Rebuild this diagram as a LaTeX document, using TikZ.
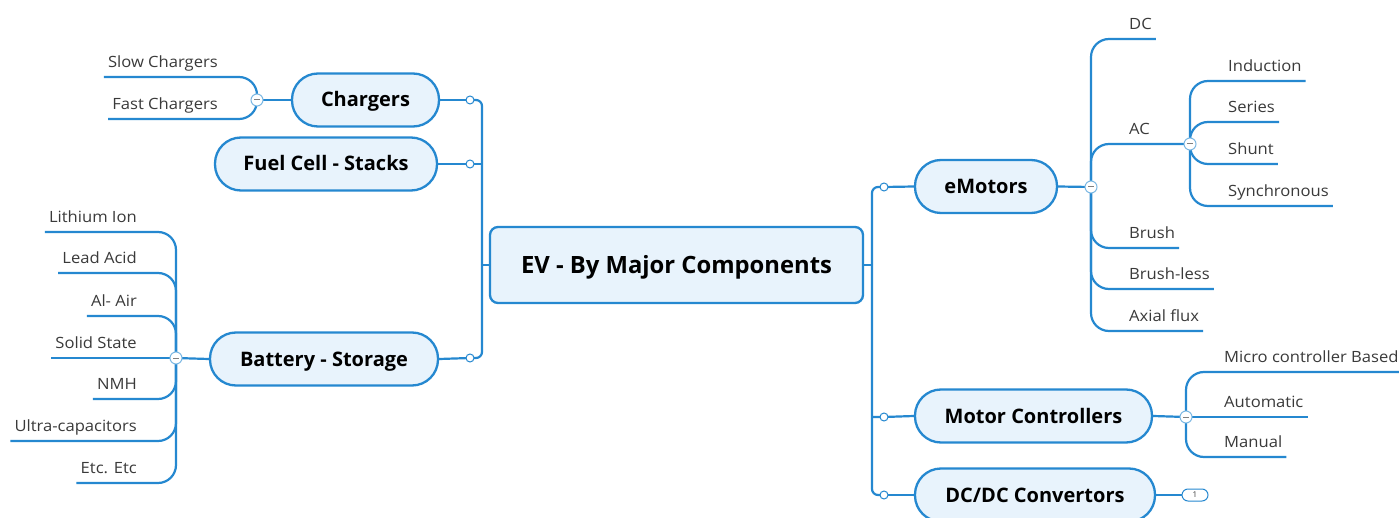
\documentclass[tikz,border=0pt]{standalone}
\usepackage{fontspec}
\setmainfont{Open Sans}
\newfontfamily\subfont[FakeStretch=1.07]{Open Sans}
\usetikzlibrary{backgrounds,calc}
\definecolor{ln}{HTML}{2588D0}
\definecolor{nf}{HTML}{E8F3FC}
\definecolor{tx}{HTML}{3A3A3A}
\begin{document}
\begin{tikzpicture}[x=1pt,y=1pt,
  topic/.style={draw=ln, line width=2.3pt, fill=nf, rounded corners=26pt, minimum height=53pt, inner sep=0pt, text height=18pt, text depth=4pt, font=\fontsize{20}{22}\selectfont\bfseries, text=black},
  central/.style={topic, rounded corners=8pt, minimum height=76pt, text height=22pt, text depth=5pt, font=\fontsize{23.8}{26}\selectfont\bfseries},
  subt/.style={inner xsep=4pt, inner ysep=0pt, text height=11pt, text depth=9.5pt, font=\subfont\fontsize{15.5}{17}\selectfont, text=tx},
  subl/.style={subt, anchor=south east},
  subr/.style={subt, anchor=south west},
  conn/.style={draw=ln, line width=2.2pt},
  rc/.style={conn, rounded corners=18pt},
  jn/.style={circle, draw=ln, line width=1pt, fill=white, minimum size=8pt, inner sep=0pt},
  coll/.style={circle, draw=ln!60, line width=1pt, fill=white, minimum size=12pt, inner sep=0pt,
    path picture={\draw[gray, line width=1pt] ($(path picture bounding box.center)+(-3,0)$) -- ++(6,0);}},
  badge/.style={draw=ln, line width=1pt, fill=white, rounded corners=6pt, minimum width=26pt, minimum height=12pt, inner sep=0pt, font=\fontsize{8}{9}\selectfont, text=tx}
]
\useasboundingbox (0,0) rectangle (1399,-518);
% central
\node[central, minimum width=373pt] (ev) at (676.5,-265) {EV - By Major Components};
% left topics
\node[topic, minimum width=147pt] (chg) at (365.5,-100) {Chargers};
\node[topic, minimum width=222pt] (fuel) at (326,-164) {Fuel Cell - Stacks};
\node[topic, minimum width=228pt] (bat) at (324,-359) {Battery - Storage};
% right topics
\node[topic, minimum width=142pt] (emo) at (986,-186.5) {eMotors};
\node[topic, minimum width=237pt] (mc) at (1033.5,-416) {Motor Controllers};
\node[topic, minimum width=240pt] (dcdc) at (1035,-495) {DC/DC Convertors};
% junctions
\node[jn] (j1) at (470,-100) {};
\node[jn] (j2) at (470,-164) {};
\node[jn] (j3) at (470,-358) {};
\node[jn] (j4) at (884,-187) {};
\node[jn] (j5) at (884,-417) {};
\node[jn] (j6) at (884,-495) {};
\coordinate (lt) at (482,-265);
\coordinate (rt) at (872,-265);
% collapse circles
\node[coll] (cchg) at (257,-100) {};
\node[coll] (cbat) at (176,-358) {};
\node[coll] (cem) at (1091,-187) {};
\node[coll] (cac) at (1190,-144) {};
\node[coll] (cmc) at (1186,-417) {};
\node[badge] (bdg) at (1195,-495) {1};
% chargers children
\node[subl] (slow) at (222,-77) {Slow Chargers};
\node[subl] (fast) at (222,-119) {Fast Chargers};
% battery children
\node[subl] (b1) at (141,-232) {Lithium Ion};
\node[subl] (b2) at (141,-273) {Lead Acid};
\node[subl] (b3) at (141,-316) {Al- Air};
\node[subl] (b4) at (141,-358) {Solid State};
\node[subl] (b5) at (141,-399) {NMH};
\node[subl] (b6) at (141,-441) {Ultra-capacitors};
\node[subl] (b7) at (141,-483) {Etc. Etc};
% emotors children
\node[subr] (m1) at (1125,-39) {DC};
\node[subr] (m2) at (1125,-144) {AC};
\node[subr] (m3) at (1125,-248) {Brush};
\node[subr] (m4) at (1125,-289) {Brush-less};
\node[subr] (m5) at (1125,-331) {Axial flux};
% AC children
\node[subr] (a1) at (1224,-81) {Induction};
\node[subr] (a2) at (1224,-122) {Series};
\node[subr] (a3) at (1224,-164) {Shunt};
\node[subr] (a4) at (1224,-206) {Synchronous};
% motor controller children
\node[subr] (k1) at (1220,-372) {Micro controller Based};
\node[subr] (k2) at (1220,-417) {Automatic};
\node[subr] (k3) at (1220,-457) {Manual};
\begin{scope}[on background layer]
\fill[white] (0,0) rectangle (1399,-518);
% left trunk
\draw[conn] (ev.west) -- (lt);
\draw[conn, rounded corners=6pt] (lt) |- (j1.center);
\draw[conn, rounded corners=6pt] (lt) |- (j3.center);
\draw[conn] (fuel.east) -- (j2.center) -- (lt |- j2.center);
\draw[conn] (chg.east) -- (j1.center);
\draw[conn] (bat.east) -- (j3.center);
% right trunk
\draw[conn] (ev.east) -- (rt);
\draw[conn, rounded corners=6pt] (rt) |- (j4.center);
\draw[conn, rounded corners=6pt] (rt) |- (j6.center);
\draw[conn] (rt |- j5.center) -- (j5.center) -- (mc.west);
\draw[conn] (j4.center) -- (emo.west);
\draw[conn] (j6.center) -- (dcdc.west);
% chargers
\draw[conn] (chg.west) -- (cchg.center);
\draw[rc] (cchg.center) |- (slow.south west);
\draw[rc] (cchg.center) |- (fast.south west);
% battery
\draw[conn] (bat.west) -- (cbat.center);
\foreach \n in {b1,b2,b3,b5,b6,b7} \draw[rc] (cbat.center) |- (\n.south west);
\draw[conn] (cbat.center) -- (b4.south west);
% emotors
\draw[conn] (emo.east) -- (cem.center);
\foreach \n in {m1,m3,m4,m5} \draw[rc] (cem.center) |- (\n.south east);
\draw[rc] (cem.center) |- (cac.center);
\foreach \n in {a1,a2,a3,a4} \draw[rc] (cac.center) |- (\n.south east);
% motor controllers
\draw[conn] (mc.east) -- (cmc.center);
\draw[rc] (cmc.center) |- (k1.south east);
\draw[conn] (cmc.center) -- (k2.south east);
\draw[rc] (cmc.center) |- (k3.south east);
% dc/dc
\draw[conn] (dcdc.east) -- (bdg.west);
\end{scope}
\end{tikzpicture}
\end{document}
